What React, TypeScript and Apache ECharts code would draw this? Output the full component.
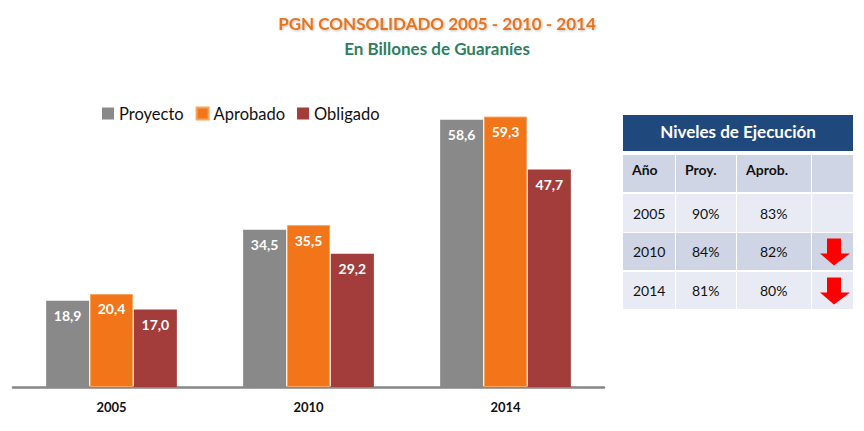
import React, { useEffect, useRef } from "react";
import * as echarts from "echarts";

const categories = ["2005", "2010", "2014"];
const proyecto = [18.9, 34.5, 58.6];
const aprobado = [20.4, 35.5, 59.3];
const obligado = [17.0, 29.2, 47.7];

const tableHeader = ["Año", "Proy.", "Aprob."];
const tableYears = ["2005", "2010", "2014"];
const tableProy = ["90%", "84%", "81%"];
const tableAprob = ["83%", "82%", "80%"];
const tableDown = [false, true, true];

const FONT = "Lato, 'Open Sans', sans-serif";

export default function App() {
  const ref = useRef<HTMLDivElement>(null);
  useEffect(() => {
    if (!ref.current) return;
    const chart = echarts.init(ref.current, undefined, { renderer: "svg" });
    echarts.graphic.registerShape(
      "downArrow",
      echarts.graphic.extendPath("M7 0 L21 0 L21 15 L30 15 L14 27 L0 15 L7 15 Z", {})
    );

    const fmt = (p: any) => Number(p.value).toFixed(1).replace(".", ",");
    const label = {
      show: true,
      position: "insideTop",
      distance: 8,
      color: "#fff",
      fontWeight: "bold",
      fontSize: 14,
      fontFamily: FONT,
      formatter: fmt,
    };

    // table geometry
    const colX = [623, 676, 737, 812];
    const colW = [52, 60, 74, 41];
    const rowY = [155, 194, 233, 272];
    const rowH = [37, 38, 37, 37];
    const rowFill = ["#CFD5E4", "#E9EBF4", "#CFD5E4", "#E9EBF4"];
    const textX = [632, 685, 746];
    const dataX = [633, 692, 760];

    const graphics: any[] = [];
    graphics.push({
      type: "rect",
      shape: { x: 623, y: 115, width: 230, height: 36 },
      style: { fill: "#1F497D" },
    });
    graphics.push({
      type: "text",
      x: 738,
      y: 131,
      style: {
        text: "Niveles de Ejecución",
        fill: "#fff",
        font: `bold 17px ${FONT}`,
        textAlign: "center",
        textVerticalAlign: "middle",
      },
    });
    for (let r = 0; r < 4; r++) {
      for (let c = 0; c < 4; c++) {
        graphics.push({
          type: "rect",
          shape: { x: colX[c], y: rowY[r], width: colW[c], height: rowH[r] },
          style: { fill: rowFill[r] },
        });
      }
    }
    tableHeader.forEach((t, i) => {
      graphics.push({
        type: "text",
        x: textX[i],
        y: 169,
        style: {
          text: t,
          fill: "#111",
          font: `bold 14px ${FONT}`,
          textAlign: "left",
          textVerticalAlign: "middle",
        },
      });
    });
    tableYears.forEach((y, r) => {
      const cy = rowY[r + 1] + rowH[r + 1] / 2;
      [y, tableProy[r], tableAprob[r]].forEach((t, c) => {
        graphics.push({
          type: "text",
          x: dataX[c],
          y: cy,
          style: {
            text: t,
            fill: "#111",
            font: `14px ${FONT}`,
            textAlign: "left",
            textVerticalAlign: "middle",
          },
        });
      });
      if (tableDown[r]) {
        graphics.push({
          type: "downArrow",
          x: 820,
          y: cy - 13,
          style: { fill: "#FF0000" },
        });
      }
    });

    chart.setOption({
      animation: false,
      title: [
        {
          text: "PGN CONSOLIDADO 2005 - 2010 - 2014",
          left: 432,
          top: 10,
          textAlign: "center",
          textStyle: {
            color: "#E8741E",
            fontSize: 17,
            fontWeight: "bold",
            fontFamily: FONT,
            textShadowColor: "rgba(0,0,0,0.25)",
            textShadowBlur: 2,
            textShadowOffsetX: 1,
            textShadowOffsetY: 1,
          },
        },
        {
          text: "En Billones de Guaraníes",
          left: 432,
          top: 35,
          textAlign: "center",
          textStyle: {
            color: "#2F7F5E",
            fontSize: 17,
            fontWeight: "bold",
            fontFamily: FONT,
          },
        },
      ],
      legend: {
        left: 102,
        top: 105,
        padding: 0,
        icon: "rect",
        itemWidth: 12,
        itemHeight: 12,
        itemGap: 12,
        textStyle: { fontSize: 16.5, color: "#111", fontFamily: FONT },
        data: ["Proyecto", "Aprobado", "Obligado"],
      },
      grid: { left: 13, right: 260, top: 113.4, bottom: 44 },
      xAxis: {
        type: "category",
        data: categories,
        axisTick: { show: false },
        axisLine: { lineStyle: { color: "#878787", width: 2.5 } },
        axisLabel: {
          color: "#111",
          fontWeight: "bold",
          fontSize: 13,
          fontFamily: FONT,
          margin: 13,
        },
      },
      yAxis: { type: "value", min: 0, max: 60, show: false, splitLine: { show: false } },
      series: [
        {
          name: "Proyecto",
          type: "bar",
          data: proyecto,
          barWidth: 43,
          barGap: "2%",
          itemStyle: { color: "#898989" },
          label,
        },
        {
          name: "Aprobado",
          type: "bar",
          data: aprobado,
          barWidth: 43,
          barGap: "2%",
          itemStyle: { color: "#F27619", borderColor: "#F8A35E", borderWidth: 1 },
          label,
        },
        {
          name: "Obligado",
          type: "bar",
          data: obligado,
          barWidth: 43,
          barGap: "2%",
          itemStyle: { color: "#A23D3B" },
          label,
        },
      ],
      graphic: graphics,
    });
    return () => chart.dispose();
  }, []);
  return (
    <div
      ref={ref}
      style={{ position: "fixed", left: 0, top: 0, width: 864, height: 431, background: "#fff" }}
    />
  );
}
